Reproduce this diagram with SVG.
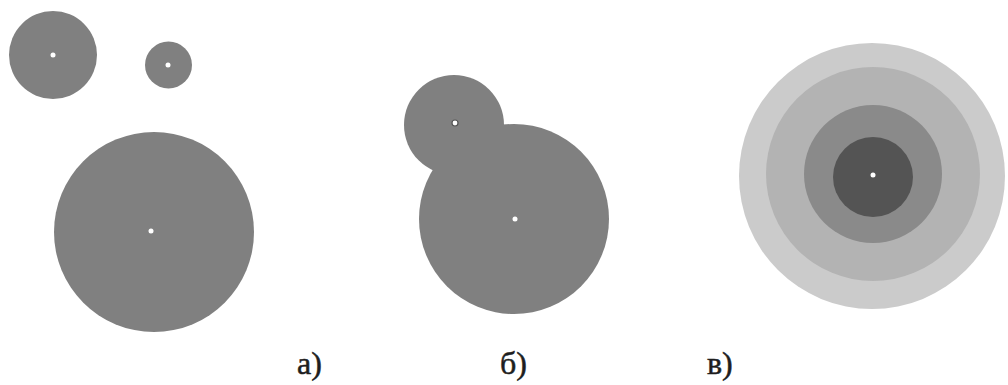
<svg xmlns="http://www.w3.org/2000/svg" width="1008" height="385" viewBox="0 0 1008 385">
<style>
.g{fill:#808080}
.dot{fill:#ffffff}
.lbl{font-family:"Liberation Serif","Times New Roman",serif;font-size:32px;fill:#1e1e1e;stroke:#1e1e1e;stroke-width:0.5}
</style>
<rect width="1008" height="385" fill="#ffffff"/>
<g id="panel-a">
<circle class="g" cx="53" cy="55" r="44"/>
<circle class="dot" cx="53" cy="55" r="2.5"/>
<circle class="g" cx="168.5" cy="65" r="23.5"/>
<circle class="dot" cx="168" cy="65" r="2.5"/>
<circle class="g" cx="154" cy="232" r="100"/>
<circle class="dot" cx="151" cy="231" r="2.5"/>
</g>
<g id="panel-b">
<circle class="g" cx="454" cy="125" r="50"/>
<circle class="g" cx="514" cy="219" r="95"/>
<circle cx="455" cy="123" r="3" fill="#ffffff" stroke="#555555" stroke-width="1.2"/>
<circle class="dot" cx="515" cy="219" r="2.5"/>
</g>
<g id="panel-c">
<circle cx="872" cy="176" r="133" fill="#cbcbcb"/>
<circle cx="873" cy="174" r="107" fill="#b3b3b3"/>
<circle cx="873" cy="174" r="69" fill="#8a8a8a"/>
<circle cx="873" cy="177" r="40" fill="#545454"/>
<circle class="dot" cx="873" cy="175" r="2.5"/>
</g>
<g id="labels">
<text class="lbl" x="297" y="374">а)</text>
<text class="lbl" x="500" y="374">б)</text>
<text class="lbl" x="707" y="374">в)</text>
</g>
</svg>
